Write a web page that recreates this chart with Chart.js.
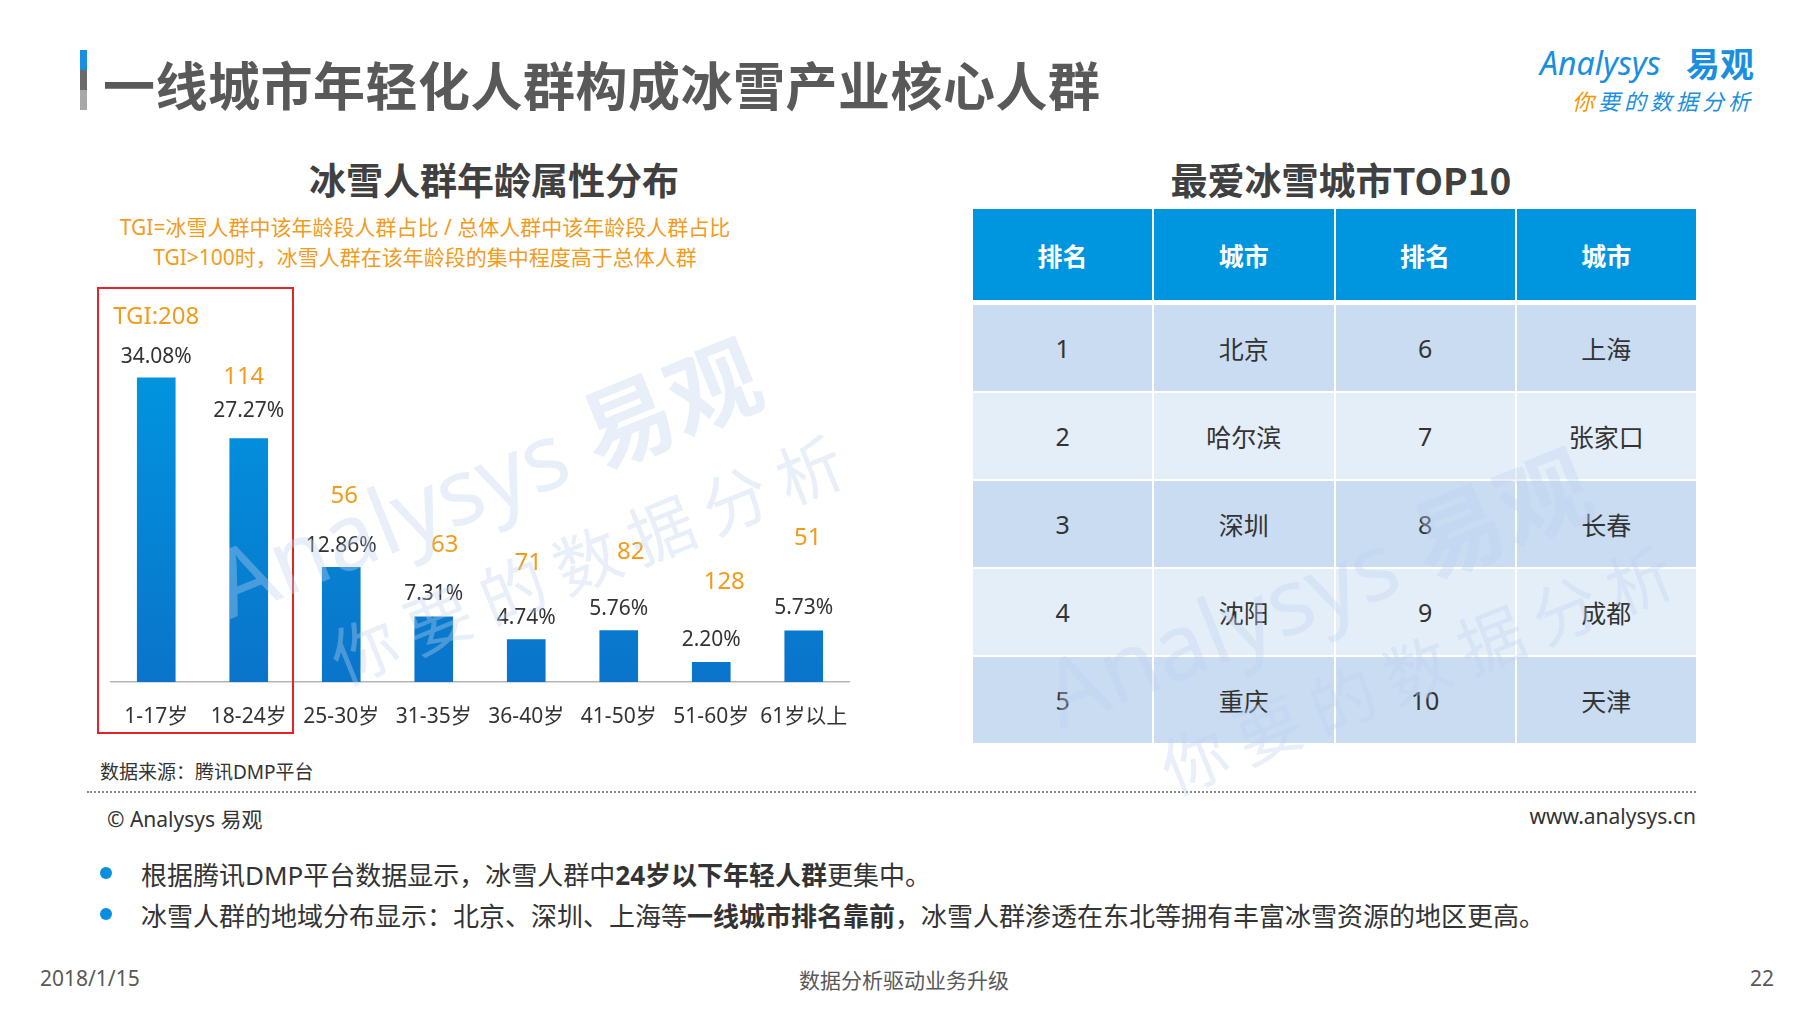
<!DOCTYPE html>
<html>
<head>
<meta charset="utf-8">
<script src="https://cdn.jsdelivr.net/npm/chart.js@4/dist/chart.umd.min.js"></script>
<style>
  body { margin: 0; background: #fff; font-family: "Noto Sans", "Noto Sans CJK SC", sans-serif; }
  #page { position: relative; width: 1800px; height: 1013px; overflow: hidden; }
  .abs { position: absolute; white-space: nowrap; }
  .bar-mark { position: absolute; left: 80px; width: 7px; height: 20px; }
  #title { left: 103px; top: 46px; font-size: 52px; font-weight: bold; color: #595959; font-family: "Noto Sans CJK SC", sans-serif; letter-spacing: 0.5px; }
  .subtitle { top: 152px; font-size: 37px; font-weight: bold; color: #404040; transform: translateX(-50%); font-family: "Noto Sans CJK SC", sans-serif; }
  .note { left: 425px; font-size: 21px; color: #f29b1d; transform: translateX(-50%); }
  #redbox { left: 97px; top: 287px; width: 193px; height: 443px; border: 2px solid #e0252a; }
  #chartWrap { position: absolute; left: 110px; top: 250px; width: 740px; height: 492px; }
  #table { position: absolute; left: 973px; top: 209px; width: 723px; display: grid;
           grid-template-columns: repeat(4, 1fr); grid-template-rows: 94px repeat(5, 86px);
           column-gap: 2px; row-gap: 2px; }
  #table div { display: flex; align-items: center; justify-content: center; font-size: 25px; color: #333; }
  #table .th { background: #0096df; color: #fff; font-weight: bold; margin-bottom: 3px; font-family: "Noto Sans CJK SC", sans-serif; }
  #table .odd { background: #c9dcf2; }
  #table .even { background: #e4eef9; }
  #dots { position: absolute; left: 87px; top: 791px; width: 1609px; border-top: 2px dotted #888; }
  .bullet { position: absolute; left: 100px; width: 12px; height: 12px; border-radius: 6px; background: #0a8fe0; }
  .btext { left: 141px; font-size: 26px; color: #333; }
  .foot { top: 964px; font-size: 21px; color: #595959; }
  .wm { position: absolute; color: rgba(190, 212, 238, 0.36); transform: rotate(-22deg); transform-origin: left top; pointer-events: none; font-family: "Noto Sans", "Noto Sans CJK SC", sans-serif; }
</style>
</head>
<body>
<div id="page">
  <div class="bar-mark" style="top:50px;background:#1a8fe0"></div>
  <div class="bar-mark" style="top:70px;background:#6b6b6b"></div>
  <div class="bar-mark" style="top:90px;background:#a8a8a8"></div>
  <div id="title" class="abs">一线城市年轻化人群构成冰雪产业核心人群</div>

  <div class="abs" style="left:1540px;top:41px;color:#1a8fe0;font-size:32px;font-style:italic;">Analysys</div>
  <div class="abs" style="left:1686px;top:38px;color:#1a8fe0;font-size:34px;font-weight:bold;font-family:'Noto Sans CJK SC';">易观</div>
  <div class="abs" style="left:1572px;top:84px;font-size:22px;font-style:italic;letter-spacing:4px;color:#1a8fe0;font-family:'Noto Sans CJK SC';">
    <span style="color:#f39800;">你</span>要的数据分析
  </div>

  <div class="abs subtitle" style="left:494px;">冰雪人群年龄属性分布</div>
  <div class="abs subtitle" style="left:1341px;">最爱冰雪城市TOP10</div>

  <div class="abs note" style="top:211px;">TGI=冰雪人群中该年龄段人群占比 / 总体人群中该年龄段人群占比</div>
  <div class="abs note" style="top:241px;">TGI&gt;100时，冰雪人群在该年龄段的集中程度高于总体人群</div>

  <div id="chartWrap"><canvas id="ageChart"></canvas></div>
  <div id="redbox" class="abs"></div>

  <div id="table"></div>

  <div class="abs" style="left:100px;top:757px;font-size:19px;color:#333;">数据来源：腾讯DMP平台</div>
  <div id="dots"></div>
  <div class="abs" style="left:107px;top:803px;font-size:21px;color:#333;">© Analysys 易观</div>
  <div class="abs" style="right:104px;top:802px;font-size:21px;color:#333;">www.analysys.cn</div>

  <div class="bullet" style="top:867px;"></div>
  <div class="abs btext" style="top:855px;">根据腾讯DMP平台数据显示，冰雪人群中<b>24岁以下年轻人群</b>更集中。</div>
  <div class="bullet" style="top:908px;"></div>
  <div class="abs btext" style="top:896px;">冰雪人群的地域分布显示：北京、深圳、上海等<b>一线城市排名靠前</b>，冰雪人群渗透在东北等拥有丰富冰雪资源的地区更高。</div>

  <div class="abs foot" style="left:40px;">2018/1/15</div>
  <div class="abs foot" style="left:904px;transform:translateX(-50%);">数据分析驱动业务升级</div>
  <div class="abs foot" style="right:26px;">22</div>

  <div class="wm" style="left:190px;top:520px;">
    <div style="font-size:92px;">Analysys <b>易观</b></div>
    <div style="font-size:66px;letter-spacing:14px;margin-left:80px;">你要的数据分析</div>
  </div>
  <div class="wm" style="left:1020px;top:630px;">
    <div style="font-size:92px;">Analysys <b>易观</b></div>
    <div style="font-size:66px;letter-spacing:14px;margin-left:80px;">你要的数据分析</div>
  </div>
</div>

<script>
// 冰雪人群年龄属性分布
const ageGroups = ['1-17岁', '18-24岁', '25-30岁', '31-35岁', '36-40岁', '41-50岁', '51-60岁', '61岁以上'];
const sharePct = [34.08, 27.27, 12.86, 7.31, 4.74, 5.76, 2.20, 5.73];
const tgiValues = [208, 114, 56, 63, 71, 82, 128, 51];

// label nudges as in the slide (pixels above the bar top)
const pctOffsetY = [21, 28, 21, 23, 22, 22, 22, 23];
const tgiOffsetY = [61, 61, 71, 72, 77, 78, 80, 93];
const tgiOffsetX = [0, -5, 3, 11, 2, 12, 13, 4];

// 最爱冰雪城市TOP10
const tableHeader = ['排名', '城市', '排名', '城市'];
const cityRankLeft = [1, 2, 3, 4, 5];
const cityLeft = ['北京', '哈尔滨', '深圳', '沈阳', '重庆'];
const cityRankRight = [6, 7, 8, 9, 10];
const cityRight = ['上海', '张家口', '长春', '成都', '天津'];

const FONT = '"Noto Sans", "Noto Sans CJK SC", sans-serif';

function buildTable() {
    const table = document.getElementById('table');
    tableHeader.forEach(h => {
        const cell = document.createElement('div');
        cell.className = 'th';
        cell.textContent = h;
        table.appendChild(cell);
    });
    cityLeft.forEach((city, i) => {
        const cls = i % 2 === 0 ? 'odd' : 'even';
        [cityRankLeft[i], city, cityRankRight[i], cityRight[i]].forEach(v => {
            const cell = document.createElement('div');
            cell.className = cls;
            cell.textContent = v;
            table.appendChild(cell);
        });
    });
}

const barLabels = {
    id: 'barLabels',
    afterDatasetsDraw(chart) {
        const ctx = chart.ctx;
        const bars = chart.getDatasetMeta(0).data;
        ctx.save();
        ctx.textAlign = 'center';
        ctx.textBaseline = 'middle';
        bars.forEach((bar, i) => {
            ctx.font = '21px ' + FONT;
            ctx.fillStyle = '#333333';
            ctx.fillText(sharePct[i].toFixed(2) + '%', bar.x, bar.y - pctOffsetY[i]);
            ctx.font = '24px ' + FONT;
            ctx.fillStyle = '#f29b1d';
            const txt = i === 0 ? 'TGI:' + tgiValues[i] : String(tgiValues[i]);
            ctx.fillText(txt, bar.x + tgiOffsetX[i], bar.y - tgiOffsetY[i]);
        });
        ctx.restore();
    }
};

function drawChart() {
    const ctx = document.getElementById('ageChart').getContext('2d');
    new Chart(ctx, {
        type: 'bar',
        data: {
            labels: ageGroups,
            datasets: [{
                data: sharePct,
                barThickness: 38,
                backgroundColor: (c) => {
                    const area = c.chart.chartArea;
                    if (!area) return '#0090dc';
                    const g = c.chart.ctx.createLinearGradient(0, area.top, 0, area.bottom);
                    g.addColorStop(0, '#0099e2');
                    g.addColorStop(1, '#0a74ca');
                    return g;
                }
            }]
        },
        options: {
            responsive: false,
            animation: false,
            layout: { padding: { top: 75, left: 0, right: 0, bottom: 0 } },
            plugins: { legend: { display: false }, tooltip: { enabled: false } },
            scales: {
                x: {
                    grid: { display: false, drawTicks: false },
                    border: { display: true, color: '#b5b5b5', width: 1.5 },
                    ticks: { color: '#333333', font: { size: 21, family: FONT }, padding: 22, maxRotation: 0, autoSkip: false },
                    afterFit: (scale) => {
                        scale.height = 60;
                        scale.paddingLeft = 0;
                        scale.paddingRight = 0;
                    }
                },
                y: { display: false, min: 0, max: 40 }
            }
        },
        plugins: [barLabels]
    });
}

const cv = document.getElementById('ageChart');
cv.width = 740;
cv.height = 492;
cv.style.width = '740px';
cv.style.height = '492px';
buildTable();
drawChart();
</script>
</body>
</html>
